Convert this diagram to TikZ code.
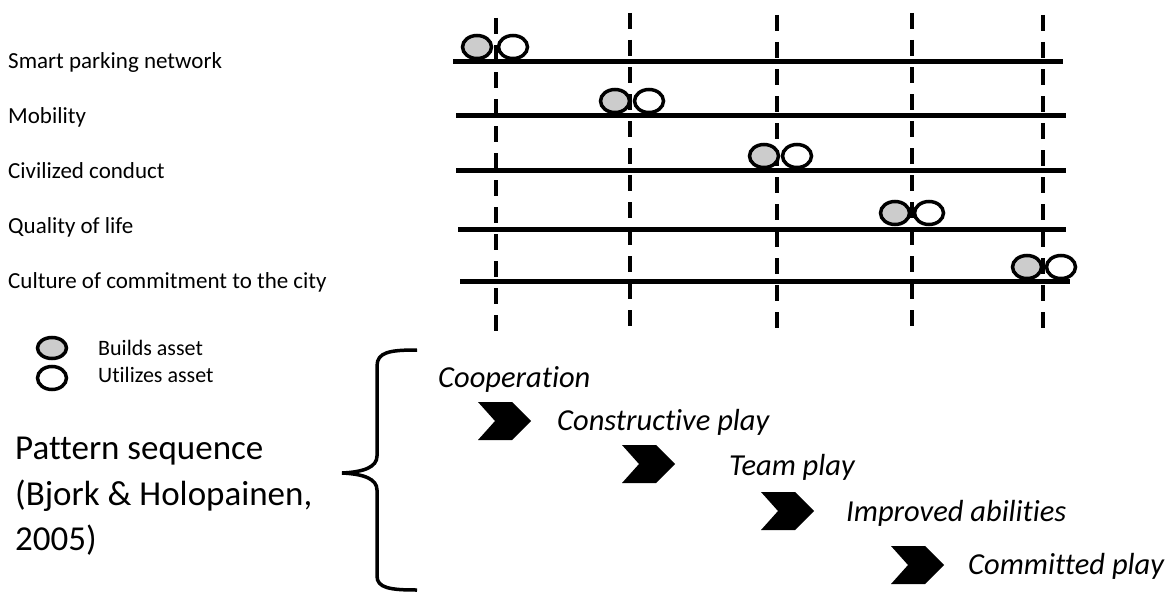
\documentclass[tikz,border=0pt]{standalone}
\usepackage{fontspec}
\setmainfont{Carlito}[Ligatures=NoCommon]
\usetikzlibrary{shapes.geometric}
\definecolor{assetgrey}{RGB}{204,204,204}
\begin{document}
\begin{tikzpicture}[x=1pt,y=-1pt,
  track/.style={line width=5pt},
  phase/.style={line width=3.5pt, dash pattern=on 16pt off 11pt},
  asset/.style={ellipse, draw, line width=3.5pt, inner sep=0pt,
    minimum width=29pt, minimum height=23pt},
  builds/.style={asset, fill=assetgrey},
  uses/.style={asset, fill=white},
  legendasset/.style={ellipse, draw, line width=3.5pt, inner sep=0pt,
    minimum width=29pt, minimum height=21pt},
  rowlabel/.style={anchor=base west, inner sep=0pt, font=\fontsize{23}{26}\selectfont},
  legendlabel/.style={anchor=base west, inner sep=0pt, font=\fontsize{22}{24}\selectfont},
  bigtext/.style={anchor=base west, inner sep=0pt, font=\fontsize{35}{42}\selectfont},
  pattern/.style={anchor=base west, inner sep=0pt, font=\fontsize{30.5}{34}\selectfont\itshape},
  chevron/.pic={\fill (0,0) -- (34,0) -- (53,19) -- (34,38) -- (0,38) -- (17,19) -- cycle;}
]
\useasboundingbox (0,0) rectangle (1169,594);

% row labels
\node[rowlabel] (r1) at (8,68)  {Smart parking network};
\node[rowlabel] (r2) at (8,123) {Mobility};
\node[rowlabel] (r3) at (8,178) {Civilized conduct};
\node[rowlabel] (r4) at (8,233) {Quality of life};
\node[rowlabel] (r5) at (8,288) {Culture of commitment to the city};

% phase separators
\draw[phase] (496,18) -- (496,331);
\draw[phase] (630,13) -- (630,326);
\draw[phase] (777,15) -- (777,331);
\draw[phase] (912,13) -- (912,326);
\draw[phase] (1043,15) -- (1043,331);

% tracks
\draw[track] (453,62)  -- (1063,62);
\draw[track] (456,115) -- (1066,115);
\draw[track] (456,170) -- (1066,170);
\draw[track] (458,229) -- (1066,229);
\draw[track] (460,281) -- (1070,281);

% assets on each track
\node[builds] (b1) at (477,47)  {};  \node[uses] (u1) at (513,47)  {};
\node[builds] (b2) at (615,101) {};  \node[uses] (u2) at (649,101) {};
\node[builds] (b3) at (764,156) {};  \node[uses] (u3) at (797,156) {};
\node[builds] (b4) at (895,213) {};  \node[uses] (u4) at (929,213) {};
\node[builds] (b5) at (1027,267) {}; \node[uses] (u5) at (1061,267) {};

% legend
\node[legendasset, fill=assetgrey] (lb) at (52,348) {};
\node[legendasset, fill=white, minimum height=23pt] (lu) at (52,378) {};
\node[legendlabel] (lbt) at (98,355) {Builds asset};
\node[legendlabel] (lut) at (98,382) {Utilizes asset};

% pattern sequence caption
\node[bigtext] (p1) at (15,459) {Pattern sequence};
\node[bigtext] (p2) at (15,505) {(Bjork \& Holopainen,};
\node[bigtext] (p3) at (15,550) {2005)};

% brace
\draw[line width=3.5pt] (417,350) .. controls (390,350) and (377,352) .. (377,366)
  -- (377,456) .. controls (377,467) and (364,472) .. (342,473)
  .. controls (364,474) and (377,479) .. (377,490)
  -- (377,576) .. controls (377,588) and (390,590) .. (417,590);

% pattern sequence steps
\node[pattern] (s1) at (438,387) {Cooperation};
\node[pattern] (s2) at (557,430) {Constructive play};
\node[pattern] (s3) at (729,475) {Team play};
\node[pattern] (s4) at (846,521) {Improved abilities};
\node[pattern] (s5) at (968,574) {Committed play};

\pic at (478,402) {chevron};
\pic at (622,445) {chevron};
\pic at (761,492) {chevron};
\pic at (891,546) {chevron};
\end{tikzpicture}
\end{document}
